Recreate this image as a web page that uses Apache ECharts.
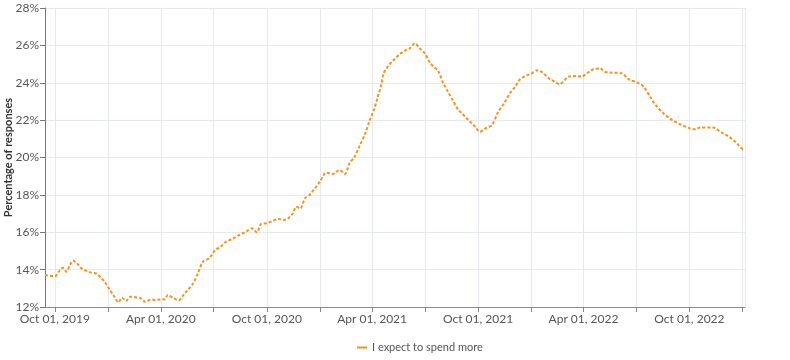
<!DOCTYPE html>
<html>
<head>
<meta charset="utf-8">
<script src="https://cdn.jsdelivr.net/npm/echarts@6/dist/echarts.min.js"></script>
<style>
html,body{margin:0;padding:0;background:#fff;}
#chart{width:790px;height:360px;}
</style>
</head>
<body>
<div id="chart"></div>
<script>
// Dates of readings
var dates = [
  '2019-09-14','2019-10-01','2019-10-10','2019-10-15','2019-10-21','2019-10-27','2019-11-02','2019-11-08','2019-11-16','2019-11-25',
  '2019-12-03','2019-12-12','2019-12-18','2019-12-26','2020-01-04','2020-01-12','2020-01-19','2020-01-25','2020-02-01','2020-02-09',
  '2020-02-17','2020-02-26','2020-03-05','2020-03-14','2020-03-24','2020-04-02','2020-04-08','2020-04-13','2020-04-22','2020-05-02',
  '2020-05-09','2020-05-15','2020-05-27','2020-06-04','2020-06-13','2020-06-24','2020-07-03','2020-07-15','2020-07-23','2020-08-01',
  '2020-08-15','2020-08-27','2020-09-05','2020-09-14','2020-09-21','2020-10-02','2020-10-12','2020-10-21','2020-10-31','2020-11-07',
  '2020-11-15','2020-11-21','2020-11-28','2020-12-06','2020-12-14','2020-12-23','2021-01-01','2021-01-08','2021-01-12','2021-01-23',
  '2021-02-04','2021-02-13','2021-02-21','2021-03-02','2021-03-11','2021-03-19','2021-03-28','2021-04-04','2021-04-10','2021-04-16',
  '2021-04-21','2021-04-29','2021-05-07','2021-05-19','2021-05-29','2021-06-05','2021-06-14','2021-06-22','2021-07-01','2021-07-10',
  '2021-07-17','2021-07-24','2021-08-02','2021-08-10','2021-08-19','2021-08-28','2021-09-03','2021-09-14','2021-09-26','2021-10-04',
  '2021-10-16','2021-10-25','2021-11-05','2021-11-15','2021-11-25','2021-12-04','2021-12-13','2021-12-23','2022-01-02','2022-01-12',
  '2022-01-20','2022-01-30','2022-02-10','2022-02-19','2022-02-25','2022-03-06','2022-03-18','2022-03-29','2022-04-07','2022-04-18',
  '2022-04-30','2022-05-08','2022-05-20','2022-06-06','2022-06-18','2022-07-02','2022-07-14','2022-07-25','2022-08-06','2022-08-17',
  '2022-09-01','2022-09-15','2022-10-02','2022-10-11','2022-10-19','2022-11-11','2022-11-26','2022-12-10','2022-12-22','2022-12-31',
  '2023-01-05'
];
// Percentage of responses: "I expect to spend more"
var spendMore = [
  13.71,13.65,13.98,14.10,13.89,14.25,14.48,14.34,14.07,13.93,
  13.84,13.78,13.62,13.35,12.91,12.55,12.25,12.50,12.33,12.55,
  12.52,12.47,12.28,12.39,12.38,12.41,12.41,12.64,12.50,12.36,
  12.60,12.82,13.27,13.80,14.43,14.61,15.01,15.27,15.50,15.62,
  15.86,16.05,16.21,16.00,16.44,16.49,16.62,16.71,16.66,16.75,
  17.01,17.37,17.28,17.82,18.00,18.35,18.71,19.10,19.19,19.12,
  19.33,19.12,19.69,20.05,20.67,21.20,22.01,22.54,23.17,23.79,
  24.51,24.90,25.18,25.54,25.75,25.84,26.11,25.84,25.57,25.07,
  24.83,24.64,23.97,23.52,23.02,22.54,22.37,22.01,21.65,21.38,
  21.60,21.74,22.45,22.90,23.44,23.79,24.20,24.38,24.51,24.67,
  24.56,24.27,24.06,23.92,24.06,24.33,24.36,24.33,24.51,24.72,
  24.77,24.59,24.54,24.51,24.19,24.02,23.79,23.25,22.72,22.37,
  22.01,21.78,21.56,21.51,21.60,21.60,21.33,21.08,20.76,20.47,
  20.45
];
var seriesName = 'I expect to spend more';
var xMin = '2019-09-14';
var xMax = '2023-01-05';
var yTicks = [12, 14, 16, 18, 20, 22, 24, 26, 28];
var monthNames = ['Jan','Feb','Mar','Apr','May','Jun','Jul','Aug','Sep','Oct','Nov','Dec'];

var chart = echarts.init(document.getElementById('chart'), null, {renderer: 'canvas'});
var FONT = 'Lato';
var DAY = 86400000;
chart.setOption({
  animation: false,
  textStyle: {fontFamily: FONT},
  grid: {left: 45, right: 45, top: 8, bottom: 53, containLabel: false, outerBoundsMode: 'none'},
  legend: {
    data: [{name: seriesName, icon: 'rect'}],
    left: 352, top: 337,
    itemWidth: 10, itemHeight: 2,
    textStyle: {fontFamily: FONT, fontSize: 11, color: '#555'}
  },
  xAxis: {
    type: 'time',
    min: xMin, max: xMax,
    minInterval: 92 * DAY, maxInterval: 92 * DAY,
    axisLine: {show: true, lineStyle: {color: '#888', width: 1}},
    axisTick: {show: true, length: 5, lineStyle: {color: '#888'}},
    splitLine: {show: true, lineStyle: {color: '#e6e9ef', width: 1}},
    axisLabel: {
      fontFamily: FONT, fontSize: 12, color: '#555', margin: 6,
      showMinLabel: false, showMaxLabel: false,
      formatter: function (v) {
        var d = new Date(v);
        var m = d.getMonth();
        if (d.getDate() !== 1 || (m !== 3 && m !== 9)) return '';
        return monthNames[m] + ' 01, ' + d.getFullYear();
      }
    }
  },
  yAxis: {
    type: 'value',
    min: yTicks[0], max: yTicks[yTicks.length - 1], interval: 2,
    name: 'Percentage of responses',
    nameLocation: 'middle', nameGap: 31, nameRotate: 90,
    nameMoveOverlap: false,
    nameTextStyle: {fontFamily: FONT, fontSize: 11, fontWeight: 'bold', color: '#333'},
    axisLine: {show: true, lineStyle: {color: '#777', width: 1}},
    axisTick: {show: true, length: 5, lineStyle: {color: '#777'}},
    splitLine: {show: true, lineStyle: {color: '#e6e9ef', width: 1}},
    axisLabel: {fontFamily: FONT, fontSize: 12, color: '#555', margin: 6, formatter: '{value}%'}
  },
  series: [{
    name: seriesName,
    type: 'line',
    data: dates.map(function (d, i) { return [d, spendMore[i]]; }),
    showSymbol: false,
    symbol: 'none',
    smooth: 0.3,
    itemStyle: {color: '#f5921e'},
    lineStyle: {color: '#f5921e', width: 2, type: [3, 2]}
  }]
});
</script>
</body>
</html>
